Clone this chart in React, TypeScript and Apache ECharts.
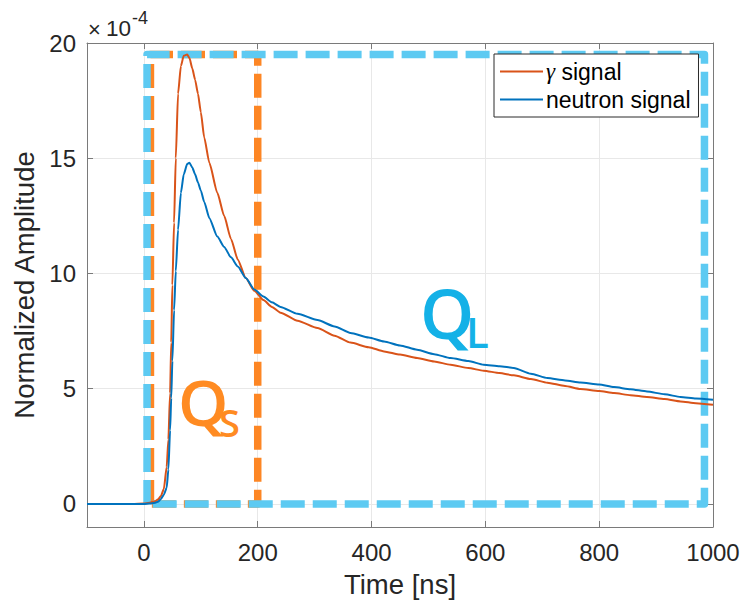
import React, { useEffect, useRef } from "react";
import * as echarts from "echarts";

// Time axis (ns) shared by both signals
const timeNs = [-100, -60, -20, 0, 10, 20, 25, 30, 35, 40, 43, 46, 48, 50, 53, 56, 60, 65, 70, 76, 80, 85, 90, 95, 100, 106, 115, 129, 141, 153, 165, 179, 194, 210, 225, 240, 270, 305, 335, 363, 395, 422, 450, 480, 510, 539, 570, 597, 625, 650, 680, 709, 740, 767, 800, 826, 855, 884, 915, 943, 970, 1000];
// Normalized amplitude in units of 1e-4
const gammaSignal = [0, 0, 0, 0.02, 0.05, 0.12, 0.2, 0.35, 0.65, 1.6, 2.8, 4.8, 7.0, 9.5, 12.2, 15.0, 17.8, 19.0, 19.45, 19.5, 19.35, 18.9, 18.4, 17.8, 17.0, 15.9, 14.8, 13.5, 12.5, 11.5, 10.6, 9.8, 9.25, 8.85, 8.55, 8.3, 7.95, 7.63, 7.3, 7.0, 6.8, 6.62, 6.48, 6.33, 6.18, 6.04, 5.9, 5.78, 5.68, 5.58, 5.42, 5.26, 5.12, 4.99, 4.9, 4.81, 4.72, 4.64, 4.55, 4.45, 4.37, 4.3];
const neutronSignal = [0, 0, 0, 0, 0.02, 0.05, 0.1, 0.22, 0.4, 0.7, 1.5, 3.2, 4.6, 6.2, 8.4, 10.1, 11.9, 13.5, 14.3, 14.75, 14.8, 14.6, 14.3, 13.95, 13.6, 13.1, 12.4, 11.6, 11.15, 10.7, 10.3, 9.8, 9.3, 9.0, 8.75, 8.55, 8.25, 7.98, 7.7, 7.42, 7.22, 7.05, 6.88, 6.69, 6.5, 6.33, 6.2, 6.04, 5.98, 5.9, 5.65, 5.46, 5.36, 5.27, 5.18, 5.07, 4.98, 4.88, 4.76, 4.64, 4.58, 4.52];

// Integration windows (time ns, amplitude 1e-4)
const shortGateTime = [11.5, 11.5, 200, 200, 11.5];
const shortGateAmp = [0, 19.5, 19.5, 0, 0];
const longGateTime = [5.5, 5.5, 985, 985, 5.5];
const longGateAmp = [0, 19.5, 19.5, 0, 0];

const xTicks = [0, 200, 400, 600, 800, 1000];
const yTicks = [0, 5, 10, 15, 20];

const FONT = "'Liberation Sans', Arial, Helvetica, sans-serif";
const QFONT = "'Open Sans', 'Noto Sans', sans-serif";

export default function App() {
  const ref = useRef<HTMLDivElement>(null);
  useEffect(() => {
    if (!ref.current) return;
    const chart = echarts.init(ref.current, undefined, { renderer: "svg" });
    const zip = (a: number[], b: number[]) => a.map((t, i) => [t, b[i]]);
    const axisLineColor = "#7a7a7a";
    const labelColor = "#262626";
    const xLabel = (v: number) => (xTicks.includes(v) ? String(v) : "");
    const yLabel = (v: number) => (yTicks.includes(v) ? String(v) : "");
    chart.setOption({
      animation: false,
      backgroundColor: "#ffffff",
      grid: { left: 87, right: 33, top: 43, bottom: 75 },
      xAxis: [
        {
          type: "value",
          min: -100,
          max: 1000,
          splitNumber: 5,
          name: "Time [ns]",
          nameLocation: "middle",
          nameGap: 43,
          nameTextStyle: { fontFamily: FONT, fontSize: 27.5, color: labelColor },
          axisLine: { show: true, onZero: false, lineStyle: { color: axisLineColor, width: 1 } },
          axisTick: { show: true, inside: true, length: 6, lineStyle: { color: axisLineColor } },
          axisLabel: { fontFamily: FONT, fontSize: 24, color: labelColor, margin: 13, formatter: xLabel, showMinLabel: false },
          splitLine: { show: true, lineStyle: { color: "#e8e8e8", width: 1 } },
        },
        {
          type: "value",
          position: "top",
          min: -100,
          max: 1000,
          splitNumber: 5,
          axisLine: { show: true, onZero: false, lineStyle: { color: axisLineColor, width: 1 } },
          axisTick: { show: true, inside: true, length: 6, lineStyle: { color: axisLineColor } },
          axisLabel: { show: false },
          splitLine: { show: false },
        },
      ],
      yAxis: [
        {
          type: "value",
          min: -1,
          max: 20,
          splitNumber: 5,
          name: "Normalized Amplitude",
          nameLocation: "middle",
          nameGap: 44,
          nameTextStyle: { fontFamily: FONT, fontSize: 27.5, color: labelColor },
          axisLine: { show: true, onZero: false, lineStyle: { color: axisLineColor, width: 1 } },
          axisTick: { show: true, inside: true, length: 6, lineStyle: { color: axisLineColor } },
          axisLabel: { fontFamily: FONT, fontSize: 24, color: labelColor, margin: 11, formatter: yLabel, showMinLabel: false },
          splitLine: { show: true, lineStyle: { color: "#e8e8e8", width: 1 } },
        },
        {
          type: "value",
          position: "right",
          min: -1,
          max: 20,
          splitNumber: 5,
          axisLine: { show: true, onZero: false, lineStyle: { color: axisLineColor, width: 1 } },
          axisTick: { show: true, inside: true, length: 6, lineStyle: { color: axisLineColor } },
          axisLabel: { show: false },
          splitLine: { show: false },
        },
      ],
      legend: {
        data: ["γ signal", "neutron signal"],
        left: 494,
        top: 54,
        orient: "vertical",
        icon: "rect",
        backgroundColor: "#ffffff",
        borderColor: "#2b2b2b",
        borderWidth: 1,
        borderRadius: 0,
        padding: [6, 8, 6, 6],
        itemWidth: 43,
        itemHeight: 2.2,
        itemGap: 5,
        z: 3,
        textStyle: {
          fontFamily: FONT,
          fontSize: 23,
          color: "#000000",
          padding: [0, 0, 0, -2],
          rich: {
            g: { fontFamily: "'Liberation Serif', 'DejaVu Serif', serif", fontStyle: "italic", fontSize: 23, color: "#000000" },
          },
        },
        formatter: (name: string) => (name === "γ signal" ? "{g|γ} signal" : name),
      },
      series: [
        {
          name: "Q_S gate",
          type: "line",
          data: zip(shortGateTime, shortGateAmp),
          symbol: "none",
          silent: true,
          z: 2,
          lineStyle: { color: "#FD8624", width: 7.5, type: [24, 8], join: "round", cap: "butt" },
        },
        {
          name: "Q_L gate",
          type: "line",
          data: zip(longGateTime, longGateAmp),
          symbol: "none",
          silent: true,
          z: 2,
          lineStyle: { color: "#5DCAF2", width: 7.5, type: [24, 8], join: "round", cap: "butt" },
        },
        {
          name: "γ signal",
          type: "line",
          data: zip(timeNs, gammaSignal),
          symbol: "none",
          smooth: 0.2,
          smoothMonotone: "x",
          z: 4,
          lineStyle: { color: "#D95319", width: 2 },
          itemStyle: { color: "#D95319" },
        },
        {
          name: "neutron signal",
          type: "line",
          data: zip(timeNs, neutronSignal),
          symbol: "none",
          smooth: 0.2,
          smoothMonotone: "x",
          z: 4,
          lineStyle: { color: "#0072BD", width: 2 },
          itemStyle: { color: "#0072BD" },
        },
      ],
      graphic: [
        { type: "text", x: 88, y: 29, style: { text: "×", fontFamily: FONT, fontSize: 22, fill: labelColor, verticalAlign: "middle" } },
        { type: "text", x: 106, y: 28, style: { text: "10", fontFamily: FONT, fontSize: 22.5, fill: labelColor, verticalAlign: "middle" } },
        { type: "text", x: 132, y: 18, style: { text: "-4", fontFamily: FONT, fontSize: 18, fill: labelColor, verticalAlign: "middle" } },
        {
          type: "text",
          x: 178,
          y: 369,
          z: 10,
          style: {
            text: "{q|Q}{s|S}",
            verticalAlign: "top",
            rich: {
              q: { fontFamily: QFONT, fontWeight: 600, fontSize: 64, fill: "#FF8B22", lineHeight: 64, verticalAlign: "top", width: 41 },
              s: { fontFamily: QFONT, fontWeight: 600, fontSize: 38, fill: "#FF8B22", lineHeight: 106 },
            },
          },
        },
        {
          type: "text",
          x: 420,
          y: 277.5,
          z: 10,
          style: {
            text: "{q|Q}{l|L}",
            verticalAlign: "top",
            rich: {
              q: { fontFamily: QFONT, fontWeight: 600, fontSize: 69, fill: "#14B1E7", lineHeight: 69, verticalAlign: "top", width: 46 },
              l: { fontFamily: QFONT, fontWeight: 600, fontSize: 42, fill: "#14B1E7", lineHeight: 107 },
            },
          },
        },
      ],
    });
    return () => chart.dispose();
  }, []);
  return <div ref={ref} style={{ position: "fixed", left: 0, top: 0, width: 746, height: 603 }} />;
}
